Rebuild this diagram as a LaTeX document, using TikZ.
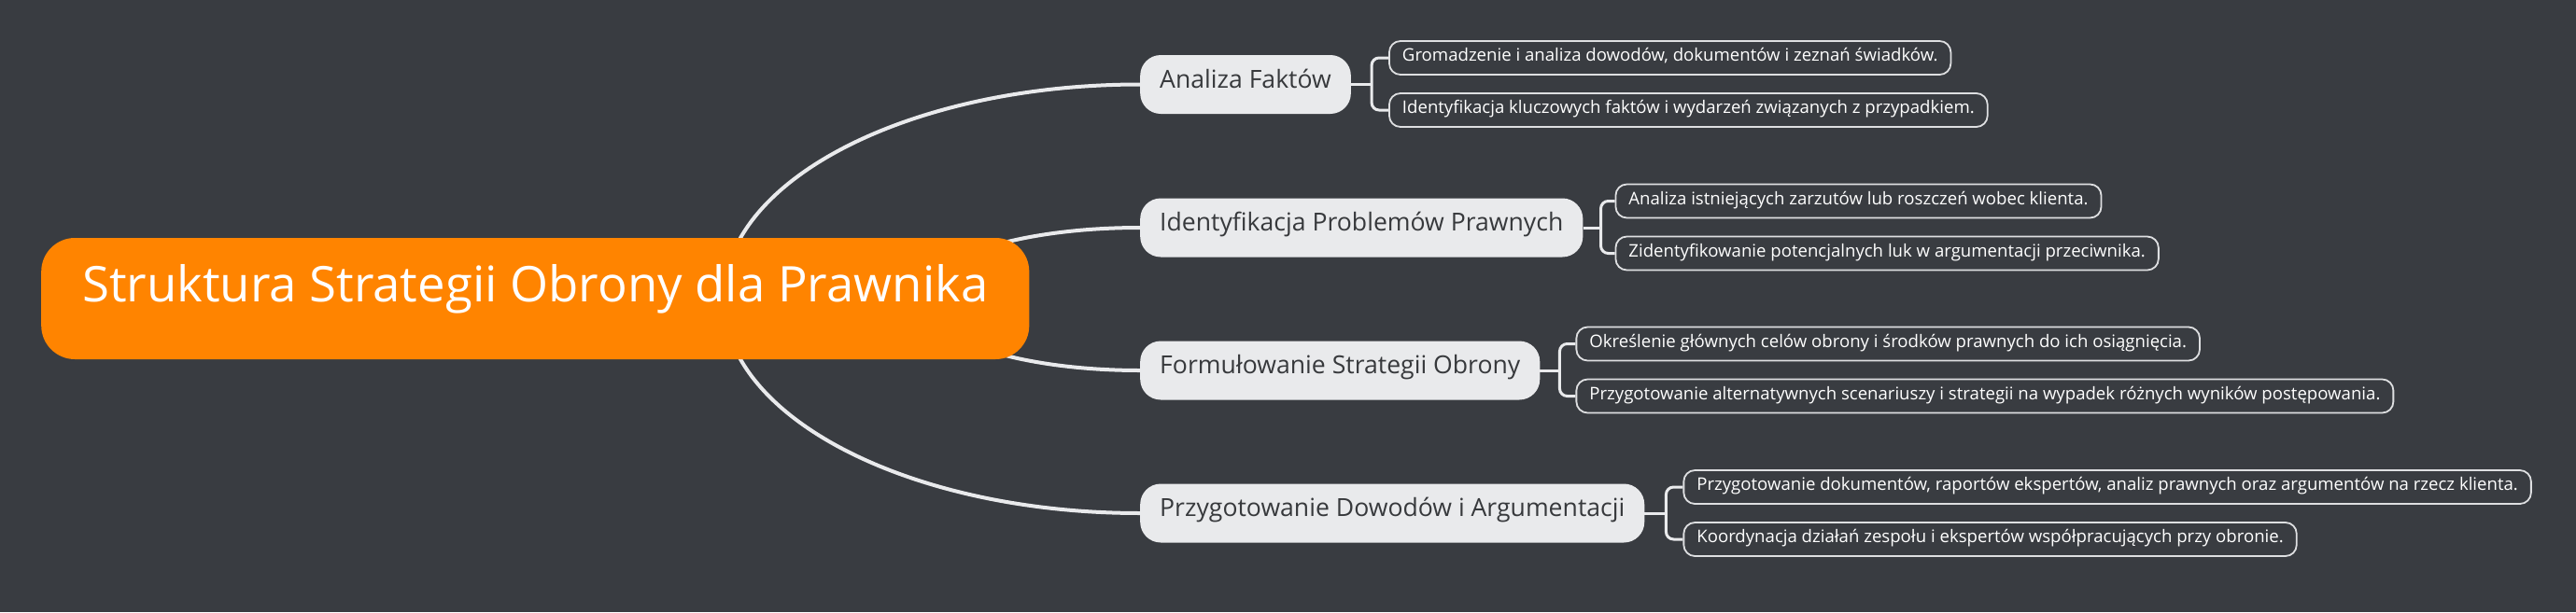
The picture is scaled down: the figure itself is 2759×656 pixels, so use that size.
\documentclass[tikz,border=0pt]{standalone}
\usepackage{fontspec}
\setmainfont{Open Sans}
\usetikzlibrary{calc}
\definecolor{bg}{RGB}{57,60,65}
\definecolor{rootc}{RGB}{255,132,0}
\definecolor{lvl}{RGB}{233,234,236}
\definecolor{lvltxt}{RGB}{55,57,60}
\definecolor{linec}{RGB}{233,234,236}
\definecolor{leafline}{RGB}{222,223,225}
\begin{document}
\begin{tikzpicture}[x=1pt,y=-1pt,
  rootbox/.style={fill=rootc, rounded corners=36pt, text=white,
    font=\fontsize{52.7}{60}\selectfont, minimum height=130pt, inner xsep=44pt,
    anchor=west, text height=0.85em, text depth=0.15em},
  topicbox/.style={fill=lvl, rounded corners=22pt, text=lvltxt,
    font=\fontsize{26.6}{30}\selectfont, minimum height=63pt, inner xsep=21pt,
    anchor=west, text height=0.85em, text depth=0.15em},
  leafbox/.style={draw=leafline, line width=1.8pt, fill=bg, rounded corners=12pt,
    text=white, font=\fontsize{18.6}{21}\selectfont, minimum height=36pt,
    inner xsep=14pt, anchor=west, text height=0.85em, text depth=0.15em},
  branch/.style={draw=linec, line width=4pt},
  twig/.style={draw=linec, line width=3pt, rounded corners=8pt},
]
\fill[bg] (0,0) rectangle (2759,656);
\useasboundingbox (0,0) rectangle (2759,656);

% level-1 topics
\node[topicbox] (t1) at (1221,90.5) {Analiza Faktów};
\node[topicbox] (t2) at (1221,244) {Identyfikacja Problemów Prawnych};
\node[topicbox] (t3) at (1221,397) {Formułowanie Strategii Obrony};
\node[topicbox] (t4) at (1221,550) {Przygotowanie Dowodów i Argumentacji};

% main branches (drawn under the root)
\coordinate (rs) at (775,320);
\coordinate (rsi) at (986,320);
\draw[branch] (rs) .. controls (775,193) and (974,90.5) .. (t1.west);
\draw[branch] (rsi) .. controls (986,277) and (1091,244) .. (t2.west);
\draw[branch] (rsi) .. controls (986,363) and (1091,397) .. (t3.west);
\draw[branch] (rs) .. controls (775,447) and (974,550) .. (t4.west);

% root
\node[rootbox] (r) at (44,320) {Struktura Strategii Obrony dla Prawnika};

% leaves
\node[leafbox] (l11) at ($(t1.east)+(40,-28.5)$) {Gromadzenie i analiza dowodów, dokumentów i zeznań świadków.};
\node[leafbox] (l12) at ($(t1.east)+(40,27.5)$) {Identyfikacja kluczowych faktów i wydarzeń związanych z przypadkiem.};
\node[leafbox] (l21) at ($(t2.east)+(34,-28.5)$) {Analiza istniejących zarzutów lub roszczeń wobec klienta.};
\node[leafbox] (l22) at ($(t2.east)+(34,27.5)$) {Zidentyfikowanie potencjalnych luk w argumentacji przeciwnika.};
\node[leafbox] (l31) at ($(t3.east)+(38,-28.5)$) {Określenie głównych celów obrony i środków prawnych do ich osiągnięcia.};
\node[leafbox] (l32) at ($(t3.east)+(38,27.5)$) {Przygotowanie alternatywnych scenariuszy i strategii na wypadek różnych wyników postępowania.};
\node[leafbox] (l41) at ($(t4.east)+(41,-28)$) {Przygotowanie dokumentów, raportów ekspertów, analiz prawnych oraz argumentów na rzecz klienta.};
\node[leafbox] (l42) at ($(t4.east)+(41,28)$) {Koordynacja działań zespołu i ekspertów współpracujących przy obronie.};

% twigs
\foreach \t/\a/\b/\d in {t1/l11/l12/22, t2/l21/l22/19, t3/l31/l32/21, t4/l41/l42/23}{
  \draw[twig] (\t.east) -- ++(\d,0);
  \draw[twig] (\a.west) -| ($(\t.east)+(\d,0)$) |- (\b.west);
}
\end{tikzpicture}
\end{document}
